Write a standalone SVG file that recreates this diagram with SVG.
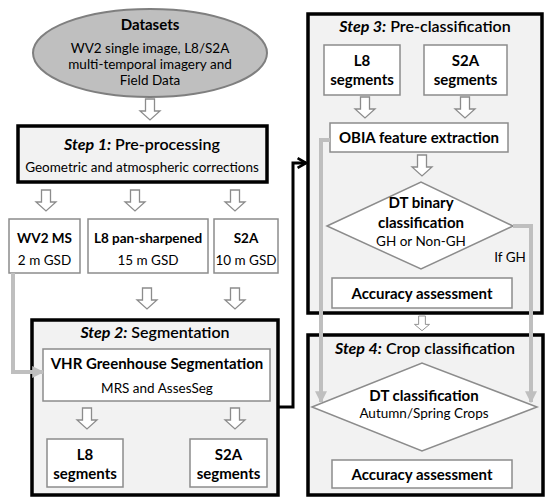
<svg xmlns="http://www.w3.org/2000/svg" width="550" height="504" viewBox="0 0 550 504">
<defs>
<style>
text{font-family:Lato,"Liberation Sans",sans-serif;fill:#000;text-anchor:middle}
.t{font-size:16px;font-weight:600}
.b{font-weight:bold}
.s{font-size:13.5px}
.m{font-size:13.5px}
.l{font-size:15px}
.step{fill:#f2f2f2;stroke:#000;stroke-width:3.5}
.box{fill:#fff;stroke:#8c8c8c;stroke-width:1.5}
.ha{fill:#fff;stroke:#8c8c8c;stroke-width:1.3}
.gc{fill:none;stroke:#bfbfbf;stroke-width:4}
</style>
<path id="ha" class="ha" d="M-4.5,0 H4.5 V12 H10 L0,21 L-10,12 H-4.5 Z"/>
<marker id="ga" viewBox="0 0 10 10" refX="9" refY="5" markerWidth="3" markerHeight="3" orient="auto" markerUnits="strokeWidth">
<path d="M0,0 L10,5 L0,10 Z" fill="#bfbfbf"/>
</marker>
<marker id="ba" viewBox="0 0 10 10" refX="8" refY="5" markerWidth="4" markerHeight="4" orient="auto" markerUnits="strokeWidth">
<path d="M1,1 L8,5 L1,9" fill="none" stroke="#000" stroke-width="2.2"/>
</marker>
</defs>

<g id="datasets">
<ellipse cx="150" cy="53" rx="117" ry="44" fill="#bfbfbf" stroke="#7f7f7f" stroke-width="2"/>
<text x="150" y="30" class="l b">Datasets</text>
<text x="150" y="53" class="m">WV2 single image, L8/S2A</text>
<text x="150" y="69" class="m">multi-temporal imagery and</text>
<text x="150" y="85" class="m">Field Data</text>
</g>

<g id="step1">
<rect x="18" y="126" width="249" height="56" class="step"/>
<text x="142" y="150" class="t"><tspan class="b" font-style="italic">Step 1:</tspan> Pre-processing</text>
<text x="142" y="172" class="s">Geometric and atmospheric corrections</text>
</g>

<g id="wv2ms">
<rect x="9" y="219" width="71" height="54" class="box"/>
<text x="44.5" y="243" class="m b">WV2 MS</text>
<text x="44.5" y="265" class="m">2 m GSD</text>
</g>
<g id="l8pan">
<rect x="88" y="219" width="120" height="54" class="box"/>
<text x="148" y="243" class="m b">L8 pan-sharpened</text>
<text x="148" y="265" class="m">15 m GSD</text>
</g>
<g id="s2a">
<rect x="214" y="219" width="64" height="54" class="box"/>
<text x="246" y="243" class="m b">S2A</text>
<text x="246" y="265" class="m">10 m GSD</text>
</g>

<g id="step2">
<rect x="32" y="320" width="246" height="175" class="step"/>
<text x="155" y="338" class="t"><tspan class="b" font-style="italic">Step 2:</tspan> Segmentation</text>
</g>
<g id="vhr">
<rect x="43" y="349" width="227" height="52" class="box"/>
<text x="157" y="369" class="l b">VHR Greenhouse Segmentation</text>
<text x="157" y="393" class="s">MRS and AssesSeg</text>
</g>
<g id="l8seg2">
<rect x="47" y="439" width="76" height="48" class="box"/>
<text x="85" y="460" class="l b">L8</text>
<text x="85" y="479" class="l b">segments</text>
</g>
<g id="s2aseg2">
<rect x="190" y="439" width="77" height="48" class="box"/>
<text x="228.5" y="460" class="l b">S2A</text>
<text x="228.5" y="479" class="l b">segments</text>
</g>

<g id="step3">
<rect x="308" y="14" width="234" height="299" class="step"/>
<text x="425" y="32" class="t"><tspan class="b" font-style="italic">Step 3:</tspan> Pre-classification</text>
</g>
<g id="l8seg3">
<rect x="324" y="45" width="76" height="50" class="box"/>
<text x="362" y="66" class="l b">L8</text>
<text x="362" y="85" class="l b">segments</text>
</g>
<g id="s2aseg3">
<rect x="424" y="45" width="83" height="50" class="box"/>
<text x="465.5" y="66" class="l b">S2A</text>
<text x="465.5" y="85" class="l b">segments</text>
</g>
<g id="obia">
<rect x="330" y="123" width="178" height="29" class="box"/>
<text x="419" y="143" class="l b">OBIA feature extraction</text>
</g>
<g id="dtbinary">
<path d="M327,226 L421,182 L513,226 L421,269 Z" class="box"/>
<text x="421" y="208" class="l b">DT binary</text>
<text x="421" y="228" class="l b">classification</text>
<text x="421" y="246" class="s">GH or Non-GH</text>
</g>
<g id="acc3">
<rect x="332" y="278" width="180" height="30" class="box"/>
<text x="422" y="299" class="l b">Accuracy assessment</text>
</g>

<g id="step4">
<rect x="308" y="335" width="235" height="160" class="step"/>
<text x="425" y="354" class="t"><tspan class="b" font-style="italic">Step 4:</tspan> Crop classification</text>
</g>
<g id="dtclass">
<path d="M312,407 L422,363 L537,407 L422,451 Z" class="box"/>
<text x="424" y="401" class="l b">DT classification</text>
<text x="424" y="418" class="s">Autumn/Spring Crops</text>
</g>
<g id="acc4">
<rect x="332" y="460" width="180" height="28" class="box"/>
<text x="422" y="480" class="l b">Accuracy assessment</text>
</g>

<g id="connectors">
<use href="#ha" x="150" y="99"/>
<use href="#ha" x="46" y="190"/>
<use href="#ha" x="135" y="190"/>
<use href="#ha" x="235" y="190"/>
<use href="#ha" x="147" y="288"/>
<use href="#ha" x="235" y="288"/>
<use href="#ha" x="87" y="408"/>
<use href="#ha" x="235" y="408"/>
<use href="#ha" x="365" y="97"/>
<use href="#ha" x="465" y="97"/>
<use href="#ha" x="422" y="155"/>
<use href="#ha" transform="translate(422 316) scale(0.75 0.7)"/>
<path d="M13,273 V372 H43" class="gc" marker-end="url(#ga)"/>
<path d="M330,140 H321 V402" class="gc" marker-end="url(#ga)"/>
<path d="M513,226 H531 V402" class="gc" marker-end="url(#ga)"/>
<text x="510" y="262" class="s">If GH</text>
<path d="M278,407 H293 V163 H306" fill="none" stroke="#000" stroke-width="3" marker-end="url(#ba)"/>
</g>
</svg>
